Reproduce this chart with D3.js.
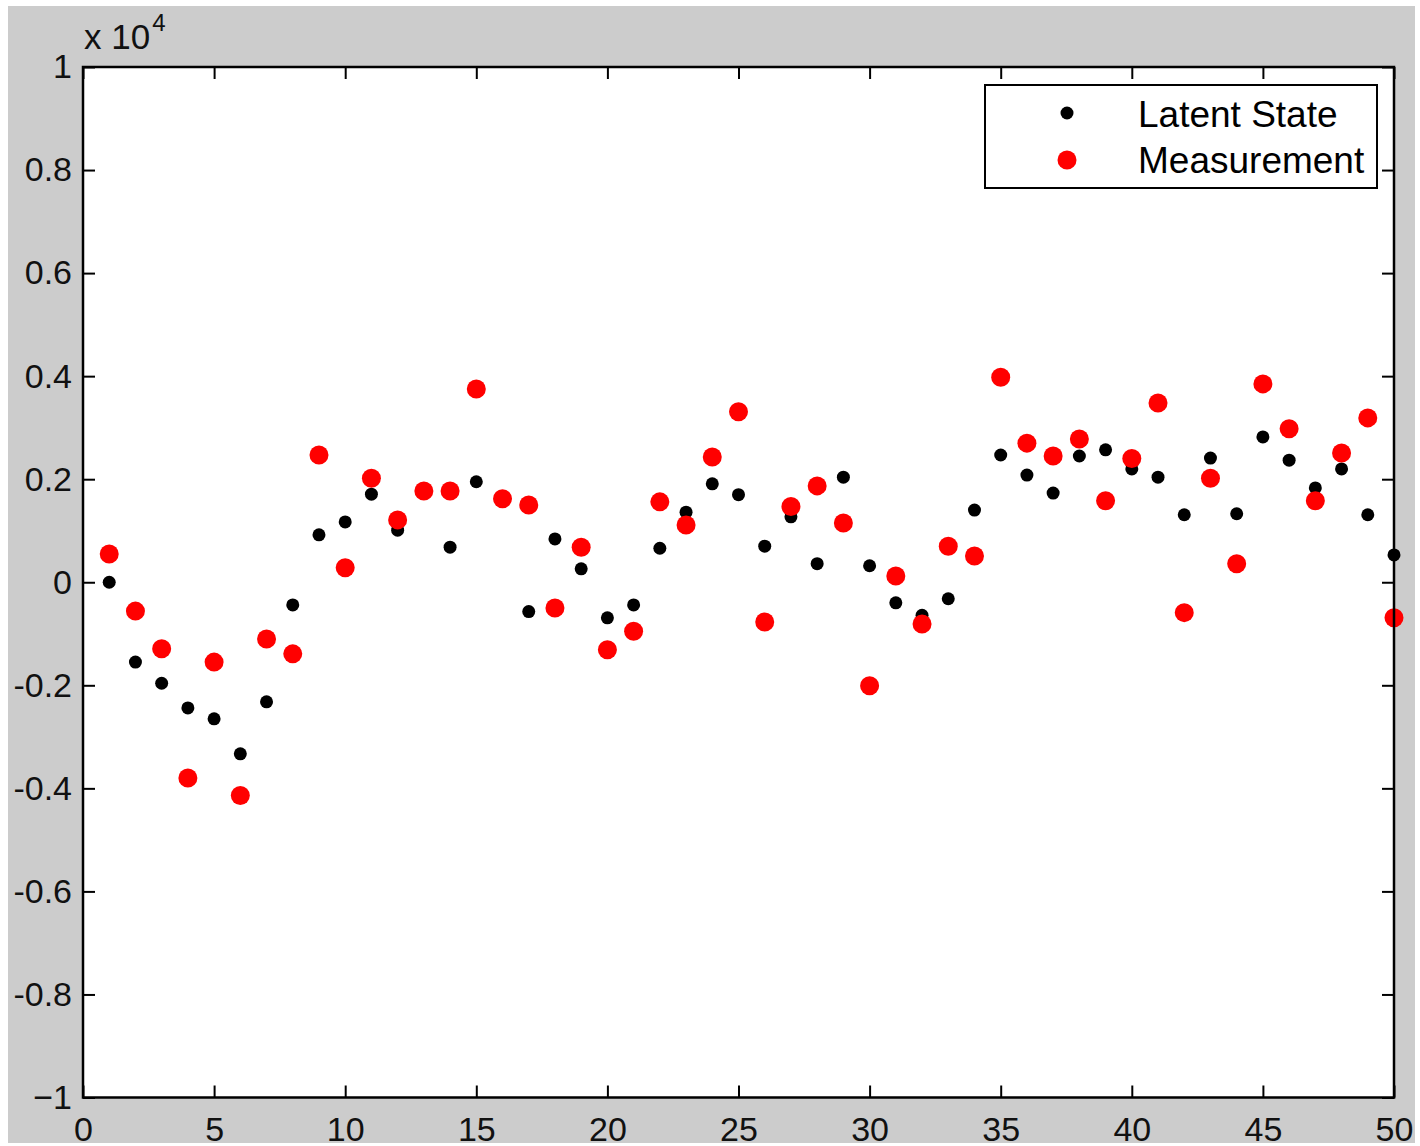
<!DOCTYPE html>
<html>
<head>
<meta charset="utf-8">
<script src="https://cdn.jsdelivr.net/npm/d3@7"></script>
<style>
  body { margin: 0; background: #fff; }
  text { font-family: "Liberation Sans", Arial, Helvetica, sans-serif; }
</style>
</head>
<body>
<script>
// time steps 1..50
const steps = d3.range(1, 51);

// latent state (raw units, axis shows x 10^4)
const latent = [0, -1550, -1960, -2440, -2650, -3330, -2320, -440, 920, 1170,
  1710, 1010, 1770, 680, 1950, 1620, -570, 840, 260, -690,
  -440, 660, 1360, 1910, 1700, 700, 1270, 360, 2040, 320,
  -400, -640, -320, 1400, 2470, 2080, 1730, 2450, 2570, 2200,
  2040, 1310, 2410, 1330, 2820, 2370, 1830, 2200, 1310, 530];

// noisy measurement
const measurement = [550, -560, -1290, -3800, -1550, -4140, -1100, -1390, 2470, 280,
  2020, 1210, 1770, 1770, 3750, 1620, 1500, -500, 680, -1310,
  -950, 1560, 1110, 2430, 3310, -770, 1470, 1870, 1150, -2010,
  120, -810, 700, 510, 3980, 2700, 2450, 2780, 1580, 2400,
  3480, -590, 2020, 360, 3850, 2980, 1580, 2510, 3190, -690];

const xTicks = [0, 5, 10, 15, 20, 25, 30, 35, 40, 45, 50];
const yTicks = [-10000, -8000, -6000, -4000, -2000, 0, 2000, 4000, 6000, 8000, 10000];
const yTickLabels = ["\u22121", "-0.8", "-0.6", "-0.4", "-0.2", "0", "0.2", "0.4", "0.6", "0.8", "1"];
const legendNames = ["Latent State", "Measurement"];

const W = 1420, H = 1146;
const plot = {left: 83, right: 1394, top: 67, bottom: 1097.5};

const x = d3.scaleLinear().domain([0, 50]).range([plot.left, plot.right]);
const y = d3.scaleLinear().domain([-10000, 10000]).range([plot.bottom, plot.top]);

const svg = d3.select("body").append("svg")
  .attr("width", W)
  .attr("height", H);

svg.append("defs").append("clipPath")
  .attr("id", "fig")
  .append("rect")
  .attr("x", 8).attr("y", 6)
  .attr("width", 1407).attr("height", 1137);

const fig = svg.append("g").attr("clip-path", "url(#fig)");

fig.append("rect")
  .attr("x", 8).attr("y", 6)
  .attr("width", 1407).attr("height", 1137)
  .attr("fill", "#cccccc");

fig.append("rect")
  .attr("x", plot.left).attr("y", plot.top)
  .attr("width", plot.right - plot.left)
  .attr("height", plot.bottom - plot.top)
  .attr("fill", "#fff");

function styleAxis(g){
  g.select(".domain").remove();
  g.selectAll(".tick line").attr("stroke", "#000").attr("stroke-width", 2);
  g.selectAll(".tick text")
    .attr("fill", "#111")
    .attr("font-size", 34)
    .attr("font-family", '"Liberation Sans", Arial, sans-serif');
}

fig.append("g")
  .attr("transform", "translate(0," + plot.bottom + ")")
  .call(d3.axisBottom(x).tickValues(xTicks).tickFormat(d3.format("d"))
    .tickSizeInner(-12).tickSizeOuter(0).tickPadding(19))
  .call(styleAxis);

fig.append("g")
  .attr("transform", "translate(0," + plot.top + ")")
  .call(d3.axisTop(x).tickValues(xTicks).tickFormat("")
    .tickSizeInner(-12).tickSizeOuter(0))
  .call(styleAxis);

fig.append("g")
  .attr("transform", "translate(" + plot.left + ",0)")
  .call(d3.axisLeft(y).tickValues(yTicks).tickFormat((d, i) => yTickLabels[i])
    .tickSizeInner(-12).tickSizeOuter(0).tickPadding(11))
  .call(styleAxis);

fig.append("g")
  .attr("transform", "translate(" + plot.right + ",0)")
  .call(d3.axisRight(y).tickValues(yTicks).tickFormat("")
    .tickSizeInner(-12).tickSizeOuter(0))
  .call(styleAxis);

// exponent label
const expo = fig.append("text")
  .attr("x", 84).attr("y", 49)
  .attr("font-size", 35)
  .attr("fill", "#111");
expo.append("tspan").text("x 10");
expo.append("tspan").attr("dx", 2).attr("dy", -18).attr("font-size", 24).text("4");

// points
fig.append("g").selectAll("circle")
  .data(steps)
  .enter()
  .append("circle")
  .attr("cx", d => x(d))
  .attr("cy", (d, i) => y(latent[i]))
  .attr("r", 6.5)
  .attr("fill", "#000");

fig.append("g").selectAll("circle")
  .data(steps)
  .enter()
  .append("circle")
  .attr("cx", d => x(d))
  .attr("cy", (d, i) => y(measurement[i]))
  .attr("r", 9.5)
  .attr("fill", "#ff0000");

// axes box
fig.append("rect")
  .attr("x", plot.left).attr("y", plot.top)
  .attr("width", plot.right - plot.left)
  .attr("height", plot.bottom - plot.top)
  .attr("fill", "none")
  .attr("stroke", "#000")
  .attr("stroke-width", 2.5);

// legend
const legend = fig.append("g");
legend.append("rect")
  .attr("x", 985).attr("y", 85)
  .attr("width", 392).attr("height", 103)
  .attr("fill", "#fff")
  .attr("stroke", "#000")
  .attr("stroke-width", 2);

const legendRows = [
  {name: legendNames[0], color: "#000", r: 6.5, cy: 113, ty: 127},
  {name: legendNames[1], color: "#ff0000", r: 9.5, cy: 160, ty: 173}
];

legend.selectAll(".lg-dot")
  .data(legendRows)
  .enter()
  .append("circle")
  .attr("class", "lg-dot")
  .attr("cx", 1067)
  .attr("cy", d => d.cy)
  .attr("r", d => d.r)
  .attr("fill", d => d.color);

legend.selectAll(".lg-text")
  .data(legendRows)
  .enter()
  .append("text")
  .attr("class", "lg-text")
  .attr("x", 1138)
  .attr("y", d => d.ty)
  .attr("font-size", 37)
  .attr("fill", "#000")
  .text(d => d.name);
</script>
</body>
</html>
